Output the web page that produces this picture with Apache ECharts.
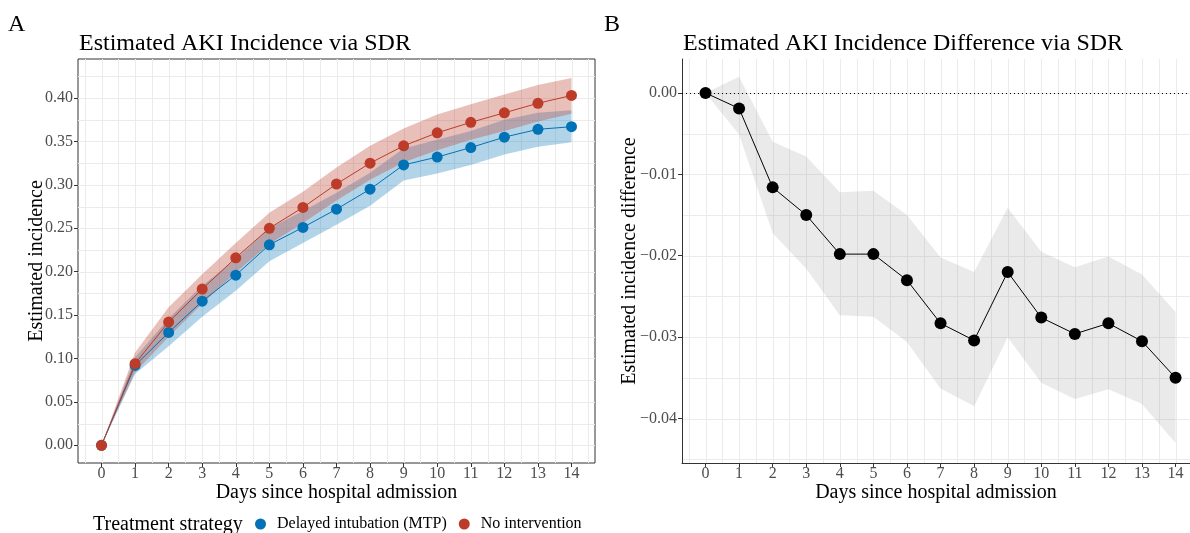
<!DOCTYPE html>
<html><head><meta charset="utf-8">
<script src="https://cdn.jsdelivr.net/npm/echarts@6/dist/echarts.min.js"></script>
<style>html,body{margin:0;padding:0;background:#fff}#c{width:1190px;height:533px}</style>
</head><body><div id="c"></div>
<script>
const days = [0,1,2,3,4,5,6,7,8,9,10,11,12,13,14];
const delayedEst = [0, 0.092, 0.130, 0.166, 0.196, 0.231, 0.251, 0.272, 0.295, 0.323, 0.332, 0.343, 0.355, 0.364, 0.367];
const delayedLo  = [0, 0.082, 0.114, 0.148, 0.178, 0.212, 0.233, 0.254, 0.276, 0.305, 0.313, 0.323, 0.335, 0.344, 0.349];
const delayedHi  = [0, 0.101, 0.146, 0.184, 0.214, 0.250, 0.270, 0.291, 0.314, 0.342, 0.352, 0.362, 0.375, 0.383, 0.386];
const noIntEst   = [0, 0.094, 0.142, 0.180, 0.216, 0.250, 0.274, 0.301, 0.325, 0.345, 0.360, 0.372, 0.383, 0.394, 0.403];
const noIntLo    = [0, 0.084, 0.125, 0.163, 0.199, 0.232, 0.256, 0.282, 0.306, 0.326, 0.340, 0.352, 0.362, 0.373, 0.382];
const noIntHi    = [0, 0.107, 0.159, 0.197, 0.233, 0.268, 0.292, 0.320, 0.345, 0.365, 0.381, 0.393, 0.404, 0.415, 0.423];
const diffEst = [0, -0.0019, -0.0116, -0.0150, -0.0198, -0.0198, -0.0230, -0.0283, -0.0304, -0.0220, -0.0276, -0.0296, -0.0283, -0.0305, -0.0350];
const diffLo  = [0, -0.0051, -0.0172, -0.0216, -0.0273, -0.0275, -0.0306, -0.0363, -0.0385, -0.0300, -0.0356, -0.0376, -0.0364, -0.0382, -0.0430];
const diffHi  = [0, 0.0020, -0.0060, -0.0078, -0.0122, -0.0120, -0.0150, -0.0202, -0.0220, -0.0141, -0.0195, -0.0214, -0.0201, -0.0223, -0.0269];
const leftYTicks = [0, 0.05, 0.10, 0.15, 0.20, 0.25, 0.30, 0.35, 0.40];
const rightYTicks = [0, -0.01, -0.02, -0.03, -0.04];
const xGridLines = [-0.5,0,0.5,1,1.5,2,2.5,3,3.5,4,4.5,5,5.5,6,6.5,7,7.5,8,8.5,9,9.5,10,10.5,11,11.5,12,12.5,13,13.5,14,14.5];
const leftYGridLines = [0,0.025,0.05,0.075,0.10,0.125,0.15,0.175,0.20,0.225,0.25,0.275,0.30,0.325,0.35,0.375,0.40,0.425];
const rightYGridLines = [0,-0.005,-0.01,-0.015,-0.02,-0.025,-0.03,-0.035,-0.04,-0.045];
const seriesNames = ['Delayed intubation (MTP)', 'No intervention'];

const FONT = "'Liberation Serif','DejaVu Serif',serif";
const BLUE = '#0072B5', RED = '#BC3C29';
const leftXRange = [-0.7, 14.7];
const rightXRange = [-0.7, 14.43];
const leftYRange = [-0.0204, 0.445];
const rightYRange = [-0.04546, 0.00417];

function px(v){ return Math.round(v) + 0.5; }

function gridSeries(idx, xs, ys, xr, yr) {
  return {
    type: 'custom', xAxisIndex: idx, yAxisIndex: idx, z: 0, silent: true, data: [[0, 0]],
    renderItem: (p, api) => {
      const children = [];
      xs.forEach(v => {
        const a = api.coord([v, yr[0]]), b = api.coord([v, yr[1]]);
        children.push({type: 'line', shape: {x1: px(a[0]), y1: a[1], x2: px(b[0]), y2: b[1]}, style: {stroke: '#ebebeb', lineWidth: 1}});
      });
      ys.forEach(v => {
        const a = api.coord([xr[0], v]), b = api.coord([xr[1], v]);
        children.push({type: 'line', shape: {x1: a[0], y1: px(a[1]), x2: b[0], y2: px(b[1])}, style: {stroke: '#ebebeb', lineWidth: 1}});
      });
      return {type: 'group', children};
    }
  };
}

function ribbonSeries(idx, lo, hi, color, z) {
  return {
    type: 'custom', xAxisIndex: idx, yAxisIndex: idx, z, silent: true, data: [[0, 0]],
    renderItem: (p, api) => {
      const pts = [];
      days.forEach((d, i) => pts.push(api.coord([d, hi[i]])));
      for (let i = days.length - 1; i >= 0; i--) pts.push(api.coord([days[i], lo[i]]));
      return {type: 'polygon', shape: {points: pts}, style: {fill: color}};
    }
  };
}

function fmtNum(v) {
  if (Math.abs(v) < 1e-9) return '0.00';
  return (v < 0 ? '\u2212' : '') + Math.abs(v).toFixed(2);
}

const tickLabel = {color: '#4d4d4d', fontSize: 16, fontFamily: FONT};
const nameStyle = {color: '#000', fontSize: 20, fontFamily: FONT};
const titleStyle = {fontSize: 24, fontWeight: 'normal', color: '#000', fontFamily: FONT};

const chart = echarts.init(document.getElementById('c'), null, {renderer: 'canvas'});
chart.setOption({
  animation: false,
  backgroundColor: '#fff',
  textStyle: {fontFamily: FONT},
  title: [
    {text: 'A', left: 8, top: 13, padding: 0, textStyle: titleStyle},
    {text: 'Estimated AKI Incidence via SDR', left: 79, top: 32, padding: 0, textStyle: titleStyle},
    {text: 'B', left: 604, top: 13, padding: 0, textStyle: titleStyle},
    {text: 'Estimated AKI Incidence Difference via SDR', left: 683, top: 32, padding: 0, textStyle: titleStyle}
  ],
  graphic: [
    {type: 'text', left: 93, top: 515, style: {text: 'Treatment strategy', font: "20px 'Liberation Serif', serif", fill: '#000'}}
  ],
  legend: {
    data: seriesNames, left: 255, top: 516, padding: 0, icon: 'circle', itemWidth: 23, itemHeight: 11, itemGap: 12,
    textStyle: {fontSize: 16, color: '#000', fontFamily: FONT},
    selectedMode: false
  },
  grid: [
    {left: 78, top: 59, width: 517, height: 404, show: true, borderColor: '#333', borderWidth: 1, backgroundColor: 'transparent'},
    {left: 682, top: 59, right: 0, height: 404, show: false}
  ],
  xAxis: [0, 1].map(i => ({
    gridIndex: i, type: 'value', min: (i ? rightXRange : leftXRange)[0], max: (i ? rightXRange : leftXRange)[1],
    name: 'Days since hospital admission', nameLocation: 'middle', nameGap: 20, nameMoveOverlap: false, nameTextStyle: nameStyle,
    splitLine: {show: false},
    axisLine: {show: i === 1, onZero: false, lineStyle: {color: '#333', width: 1}},
    axisTick: {show: true, customValues: days, length: 4, lineStyle: {color: '#333'}},
    axisLabel: Object.assign({customValues: days, margin: 3, formatter: v => Number.isInteger(v) ? String(v) : ''}, tickLabel)
  })),
  yAxis: [
    {gridIndex: 0, type: 'value', min: leftYRange[0], max: leftYRange[1],
     name: 'Estimated incidence', nameLocation: 'middle', nameGap: 31, nameMoveOverlap: false, nameTextStyle: nameStyle,
     splitLine: {show: false},
     axisLine: {show: false, onZero: false},
     axisTick: {show: true, customValues: leftYTicks, length: 4, lineStyle: {color: '#333'}},
     axisLabel: Object.assign({customValues: leftYTicks, margin: 5, formatter: fmtNum}, tickLabel)},
    {gridIndex: 1, type: 'value', min: rightYRange[0], max: rightYRange[1],
     name: 'Estimated incidence difference', nameLocation: 'middle', nameGap: 42, nameMoveOverlap: false, nameTextStyle: nameStyle,
     splitLine: {show: false},
     axisLine: {show: true, onZero: false, lineStyle: {color: '#333', width: 1}},
     axisTick: {show: true, customValues: rightYTicks, length: 4, lineStyle: {color: '#333'}},
     axisLabel: Object.assign({customValues: rightYTicks, margin: 5, formatter: fmtNum}, tickLabel)}
  ],
  series: [
    gridSeries(0, xGridLines, leftYGridLines, leftXRange, leftYRange),
    gridSeries(1, xGridLines, rightYGridLines, rightXRange, rightYRange),
    ribbonSeries(0, delayedLo, delayedHi, 'rgba(0,114,181,0.3)', 1),
    ribbonSeries(0, noIntLo, noIntHi, 'rgba(188,60,41,0.33)', 1),
    ribbonSeries(1, diffLo, diffHi, 'rgba(128,128,128,0.17)', 1),
    {name: seriesNames[0], type: 'line', xAxisIndex: 0, yAxisIndex: 0, z: 3,
     data: days.map((d, i) => [d, delayedEst[i]]), symbol: 'circle', symbolSize: 11,
     itemStyle: {color: BLUE}, lineStyle: {color: BLUE, width: 1}},
    {name: seriesNames[1], type: 'line', xAxisIndex: 0, yAxisIndex: 0, z: 4,
     data: days.map((d, i) => [d, noIntEst[i]]), symbol: 'circle', symbolSize: 11,
     itemStyle: {color: RED}, lineStyle: {color: RED, width: 1}},
    {name: 'Difference', type: 'line', xAxisIndex: 1, yAxisIndex: 1, z: 3,
     data: days.map((d, i) => [d, diffEst[i]]), symbol: 'circle', symbolSize: 12,
     itemStyle: {color: '#000'}, lineStyle: {color: '#000', width: 1},
     markLine: {silent: true, symbol: 'none', label: {show: false},
       lineStyle: {color: '#000', type: [1, 3], width: 1}, data: [{yAxis: 0}]}}
  ]
});
</script></body></html>
